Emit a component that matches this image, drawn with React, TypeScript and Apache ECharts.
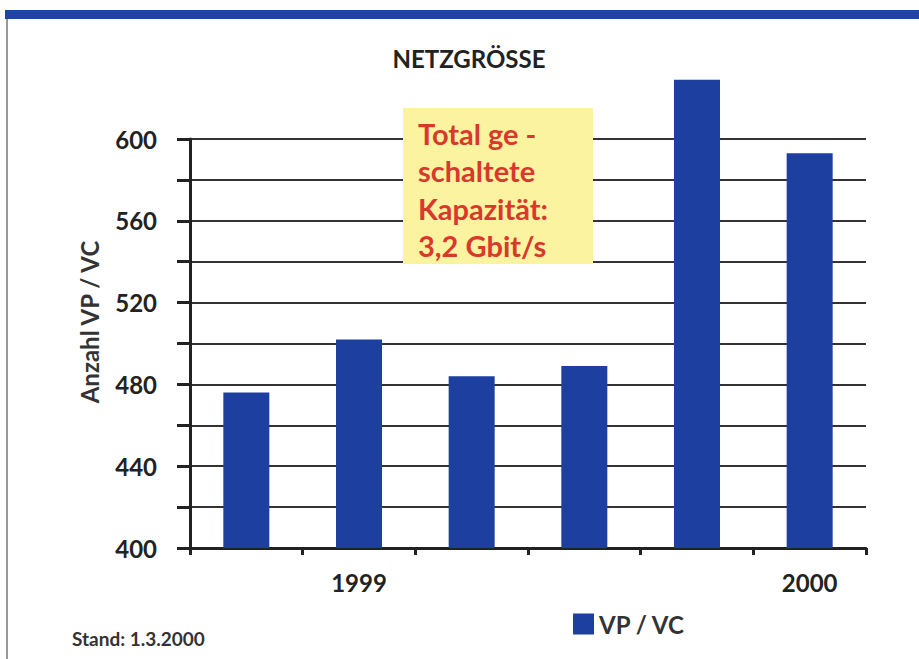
import React, { useEffect, useRef } from "react";
import * as echarts from "echarts";

const categories = ["", "1999", "", "", "", "2000"];
const seriesName = "VP / VC";
const values = [476, 502, 484, 489, 629, 593];
const yMin = 400;
const yMax = 600;
const yBarMax = 640;
const yStep = 20;
const labelStep = 40;
const titleText = "NETZGRÖSSE";
const yAxisName = "Anzahl VP / VC";
const noteText = "Stand: 1.3.2000";
const boxLines = ["Total ge -", "schaltete", "Kapazität:", "3,2 Gbit/s"];

const FONT = "Lato, 'Open Sans', sans-serif";

export default function App() {
  const ref = useRef<HTMLDivElement>(null);
  useEffect(() => {
    if (!ref.current) return;
    const chart = echarts.init(ref.current, undefined, { renderer: "svg" });
    const boxGraphics = boxLines.map((t, i) => ({
      type: "text",
      x: 418,
      y: 133 + i * 37.5,
      z: 101,
      style: {
        text: t,
        fill: "#d9392d",
        font: `bold 29px ${FONT}`,
        textAlign: "left",
        textVerticalAlign: "middle",
        verticalAlign: "middle",
      },
    }));
    const plotTop = 139;
    const plotBottom = 111;
    const plotH = 659 - plotTop - plotBottom;
    const pxPerUnit = plotH / (yMax - yMin);
    const barTop = plotTop - (yBarMax - yMax) * pxPerUnit;
    chart.setOption({
      animation: false,
      backgroundColor: "#ffffff",
      textStyle: { fontFamily: FONT },
      title: {
        text: titleText,
        left: 464,
        top: 41,
        textAlign: "center",
        textStyle: { fontFamily: FONT, fontSize: 24, fontWeight: "bold", color: "#222" },
      },
      legend: {
        left: 568,
        top: 607,
        itemWidth: 21,
        itemHeight: 21,
        itemGap: 8,
        icon: "rect",
        textStyle: { fontFamily: FONT, fontSize: 24, fontWeight: "bold", color: "#333" },
        data: [seriesName],
      },
      grid: [
        { left: 190, right: 53, top: plotTop, bottom: plotBottom, containLabel: false },
        { left: 190, right: 53, top: barTop, bottom: plotBottom, containLabel: false },
      ],
      xAxis: [
        {
          type: "category",
          gridIndex: 0,
          data: categories,
          boundaryGap: true,
          axisLine: { show: true, lineStyle: { color: "#222", width: 3 } },
          axisTick: { show: true, length: 7, interval: 0, lineStyle: { color: "#222", width: 3 } },
          axisLabel: {
            interval: 0,
            margin: 22,
            fontFamily: FONT,
            fontSize: 24,
            fontWeight: "bold",
            color: "#222",
          },
          splitLine: { show: false },
        },
        {
          type: "category",
          gridIndex: 1,
          data: categories,
          boundaryGap: true,
          show: false,
        },
      ],
      yAxis: [
        {
          type: "value",
          gridIndex: 0,
          min: yMin,
          max: yMax,
          interval: yStep,
          axisLine: { show: true, lineStyle: { color: "#222", width: 3 } },
          axisTick: { show: true, inside: false, length: 13, lineStyle: { color: "#222", width: 3 } },
          axisLabel: {
            margin: 33,
            fontFamily: FONT,
            fontSize: 24,
            fontWeight: "bold",
            color: "#222",
            formatter: (v: number) => (v % labelStep === 0 ? String(v) : ""),
          },
          splitLine: { show: true, lineStyle: { color: "#333", width: 2 } },
        },
        {
          type: "value",
          gridIndex: 1,
          min: yMin,
          max: yBarMax,
          interval: yStep,
          show: false,
          splitLine: { show: false },
        },
      ],
      series: [
        {
          name: seriesName,
          type: "bar",
          xAxisIndex: 1,
          yAxisIndex: 1,
          data: values,
          barWidth: 46,
          z: 5,
          itemStyle: { color: "#1d3f9f" },
        },
      ],
      graphic: [
        { type: "rect", shape: { x: 5, y: 10, width: 914, height: 9 }, style: { fill: "#1c47a0" }, z: 100 },
        { type: "line", shape: { x1: 7, y1: 19, x2: 7, y2: 659 }, style: { stroke: "#777", lineWidth: 1.5 }, z: 100 },
        {
          type: "text",
          x: 89,
          y: 322,
          rotation: Math.PI / 2,
          z: 100,
          style: {
            text: yAxisName,
            fill: "#333",
            font: `bold 24px ${FONT}`,
            textAlign: "center",
            textVerticalAlign: "middle",
            verticalAlign: "middle",
          },
        },
        {
          type: "text",
          x: 72,
          y: 638,
          z: 100,
          style: {
            text: noteText,
            fill: "#333",
            font: `bold 19px ${FONT}`,
            textAlign: "left",
            textVerticalAlign: "middle",
            verticalAlign: "middle",
          },
        },
        { type: "rect", shape: { x: 403, y: 108, width: 190, height: 156 }, style: { fill: "#fcf3a0" }, z: 100 },
        ...boxGraphics,
      ],
    });
    return () => chart.dispose();
  }, []);
  return (
    <div
      ref={ref}
      style={{ position: "fixed", left: 0, top: 0, width: 919, height: 659, background: "#fff" }}
    />
  );
}
